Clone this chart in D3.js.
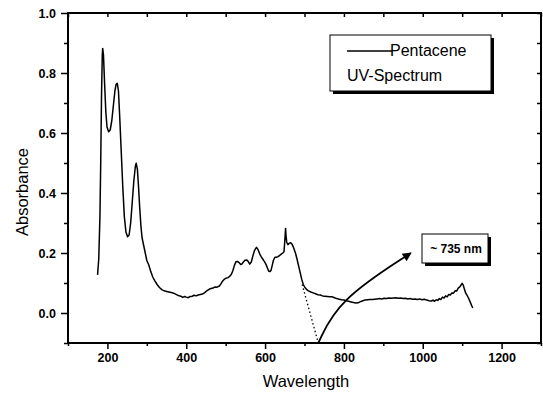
<!DOCTYPE html>
<html>
<head>
<meta charset="utf-8">
<title>Pentacene UV-Spectrum</title>
<script src="https://d3js.org/d3.v7.min.js"></script>
<style>
  body { margin: 0; background: #fff; }
  text { font-family: "Liberation Sans", Arial, sans-serif; fill: #000; }
  .tick text { font-size: 12.5px; font-weight: bold; }
  .axis path, .axis line { stroke: #000; }
</style>
</head>
<body>
<script>
// spectrum: [wavelength nm, absorbance]
var wavelengths = [175,178,181,183,185,187,188,190,193,196,199,203,207,211,215,219,222,225,228,231,235,239,243,247,251,255,259,263,267,271,273,276,279,282,285,288,292,296,300,305,310,315,320,326,332,338,344,350,356,362,368,374,380,386,391,396,400,405,410,415,420,425,430,436,441,447,452,458,463,468,473,478,484,488,492,496,501,506,510,514,518,522,526,530,534,538,541,545,549,553,557,561,565,569,573,578,582,586,590,594,598,602,606,609,612,615,618,621,625,629,633,637,641,645,648,650,652,653,655,658,661,665,669,673,677,681,685,689,693,697,701,705,710,716,722,728,734,740,746,752,758,764,770,776,782,788,794,800,806,812,818,824,830,836,842,848,854,860,866,872,878,884,890,896,902,908,914,920,926,932,938,944,950,956,962,968,974,980,986,992,998,1004,1010,1016,1022,1026,1030,1034,1038,1042,1046,1050,1054,1058,1062,1066,1070,1074,1078,1082,1086,1090,1094,1098,1100,1103,1106,1109,1112,1116,1120,1124,1127];
var absorbance = [0.127,0.18,0.32,0.50,0.72,0.86,0.882,0.86,0.76,0.67,0.62,0.604,0.61,0.64,0.69,0.74,0.762,0.766,0.74,0.66,0.54,0.42,0.32,0.27,0.254,0.26,0.30,0.37,0.44,0.49,0.499,0.48,0.42,0.35,0.29,0.25,0.225,0.20,0.175,0.16,0.138,0.12,0.108,0.095,0.085,0.078,0.074,0.072,0.070,0.068,0.066,0.062,0.058,0.056,0.052,0.055,0.053,0.051,0.055,0.056,0.059,0.057,0.06,0.062,0.063,0.068,0.074,0.079,0.082,0.083,0.087,0.086,0.09,0.097,0.106,0.112,0.116,0.118,0.122,0.128,0.14,0.158,0.171,0.172,0.168,0.162,0.163,0.17,0.176,0.177,0.172,0.163,0.17,0.19,0.208,0.219,0.212,0.198,0.188,0.18,0.172,0.163,0.15,0.14,0.138,0.142,0.158,0.175,0.186,0.186,0.188,0.192,0.196,0.2,0.204,0.24,0.282,0.26,0.235,0.228,0.232,0.234,0.228,0.215,0.2,0.18,0.157,0.135,0.112,0.095,0.085,0.079,0.074,0.07,0.067,0.064,0.061,0.06,0.057,0.056,0.055,0.054,0.054,0.051,0.048,0.046,0.044,0.043,0.041,0.039,0.037,0.035,0.033,0.034,0.038,0.041,0.043,0.044,0.045,0.045,0.046,0.047,0.048,0.047,0.049,0.048,0.05,0.049,0.05,0.051,0.049,0.05,0.048,0.049,0.047,0.048,0.046,0.047,0.045,0.047,0.044,0.046,0.043,0.041,0.04,0.043,0.039,0.044,0.042,0.048,0.045,0.053,0.05,0.057,0.054,0.062,0.06,0.067,0.066,0.074,0.073,0.083,0.087,0.095,0.099,0.092,0.078,0.066,0.06,0.05,0.038,0.025,0.017];

var xTicks = [200, 400, 600, 800, 1000, 1200];
var xMinor = [100, 300, 500, 700, 900, 1100, 1300];
var yTicks = [0.0, 0.2, 0.4, 0.6, 0.8, 1.0];
var yMinor = [-0.1, 0.1, 0.3, 0.5, 0.7, 0.9];

// onset tangent and arrow (data units)
var onsetLine = [[694, 0.095], [735, -0.1]];
var arrowPath = [[735, -0.1], [786, 0.043], [970, 0.2]];

var W = 543, H = 394;
var x = d3.scaleLinear().domain([100, 1300]).range([68, 541]);
var y = d3.scaleLinear().domain([-0.1, 1.0]).range([343, 13]);

var svg = d3.select('body').append('svg')
    .attr('width', W)
    .attr('height', H);

svg.append('defs').append('marker')
    .attr('id', 'head')
    .attr('viewBox', '0 0 10 10')
    .attr('refX', 9).attr('refY', 5)
    .attr('markerWidth', 12).attr('markerHeight', 9)
    .attr('markerUnits', 'userSpaceOnUse')
    .attr('orient', 'auto')
  .append('path')
    .attr('d', 'M0,0 L10,5 L0,10 z')
    .attr('fill', '#000');

// axes: labelled major ticks outside, minor ticks shorter
function fmtY(d) { return d3.format('.1f')(d); }

svg.append('g').attr('class', 'axis')
    .attr('transform', 'translate(0,' + y.range()[0] + ')')
    .call(d3.axisBottom(x).tickValues(xTicks).tickSize(6).tickPadding(4).tickFormat(d3.format('d')))
    .call(function(g) { g.select('.domain').remove(); });
svg.append('g').attr('class', 'axis minor')
    .attr('transform', 'translate(0,' + y.range()[0] + ')')
    .call(d3.axisBottom(x).tickValues(xMinor).tickSize(3).tickFormat(''))
    .call(function(g) { g.select('.domain').remove(); });

svg.append('g').attr('class', 'axis')
    .attr('transform', 'translate(' + x.range()[0] + ',0)')
    .call(d3.axisLeft(y).tickValues(yTicks).tickSize(7).tickPadding(5).tickFormat(fmtY))
    .call(function(g) { g.select('.domain').remove(); });
svg.append('g').attr('class', 'axis minor')
    .attr('transform', 'translate(' + x.range()[0] + ',0)')
    .call(d3.axisLeft(y).tickValues(yMinor).tickSize(4).tickFormat(''))
    .call(function(g) { g.select('.domain').remove(); });

// mirror ticks on top and right, pointing inward
svg.append('g').attr('class', 'axis')
    .attr('transform', 'translate(0,' + y.range()[1] + ')')
    .call(d3.axisBottom(x).tickValues(xTicks.concat(xMinor)).tickSize(4).tickFormat(''))
    .call(function(g) { g.select('.domain').remove(); });
svg.append('g').attr('class', 'axis')
    .attr('transform', 'translate(' + x.range()[1] + ',0)')
    .call(d3.axisLeft(y).tickValues(yTicks.concat(yMinor)).tickSize(4).tickFormat(''))
    .call(function(g) { g.select('.domain').remove(); });

svg.selectAll('.axis line').attr('stroke-width', 1.5);

// frame
svg.append('rect')
    .attr('x', x.range()[0]).attr('y', y.range()[1])
    .attr('width', x.range()[1] - x.range()[0])
    .attr('height', y.range()[0] - y.range()[1])
    .attr('fill', 'none').attr('stroke', '#000').attr('stroke-width', 2);

// spectrum
var points = wavelengths.map(function(w, i) { return [w, absorbance[i]]; });
var line = d3.line()
    .x(function(d) { return x(d[0]); })
    .y(function(d) { return y(d[1]); });

svg.append('path')
    .datum(points)
    .attr('d', line)
    .attr('fill', 'none')
    .attr('stroke', '#000')
    .attr('stroke-width', 1.5)
    .attr('stroke-linejoin', 'round');

// dotted onset extrapolation
svg.append('path')
    .datum(onsetLine)
    .attr('d', line)
    .attr('fill', 'none')
    .attr('stroke', '#000')
    .attr('stroke-width', 1.3)
    .attr('stroke-dasharray', '1.5,2.5');

// curved arrow
svg.append('path')
    .datum(arrowPath)
    .attr('d', line.curve(d3.curveBundle.beta(1)))
    .attr('fill', 'none')
    .attr('stroke', '#000')
    .attr('stroke-width', 1.8)
    .attr('marker-end', 'url(#head)');

// boxes with drop shadow
function shadowBox(bx, by, bw, bh) {
  svg.append('rect').attr('x', bx + 3).attr('y', by + 3)
      .attr('width', bw).attr('height', bh).attr('fill', '#000');
  svg.append('rect').attr('x', bx).attr('y', by)
      .attr('width', bw).attr('height', bh)
      .attr('fill', '#fff').attr('stroke', '#000').attr('stroke-width', 1);
}

shadowBox(330, 35, 161, 56);
svg.append('line')
    .attr('x1', 347).attr('x2', 392).attr('y1', 51).attr('y2', 51)
    .attr('stroke', '#000').attr('stroke-width', 1.3);
svg.append('text').attr('x', 390).attr('y', 56)
    .style('font-size', '16px').text('Pentacene');
svg.append('text').attr('x', 347).attr('y', 81)
    .style('font-size', '16px').text('UV-Spectrum');

shadowBox(422, 234, 66, 29);
svg.append('text').attr('x', 456).attr('y', 253)
    .attr('text-anchor', 'middle')
    .style('font-size', '12px').style('font-weight', 'bold')
    .text('~ 735 nm');

// axis titles
svg.append('text')
    .attr('x', 306)
    .attr('y', 387)
    .attr('text-anchor', 'middle')
    .style('font-size', '16.5px')
    .text('Wavelength');

svg.append('text')
    .attr('transform', 'translate(28,192) rotate(-90)')
    .attr('text-anchor', 'middle')
    .style('font-size', '16.5px')
    .text('Absorbance');
</script>
</body>
</html>
